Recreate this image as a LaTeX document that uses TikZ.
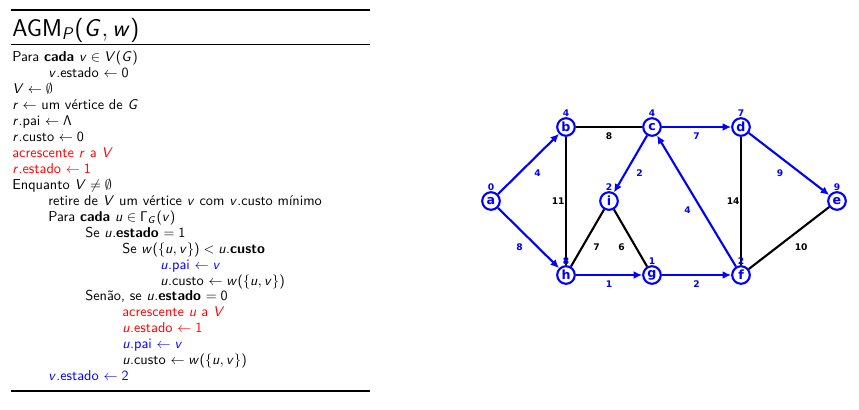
\documentclass[tikz,border=0pt]{standalone}
\usepackage[no-math]{fontspec}
\usepackage{tikz}
\usetikzlibrary{arrows.meta}
\newfontfamily\graphfont{DejaVu Sans}
% sans serif letters in math
\DeclareSymbolFont{sfitalic}{OT1}{cmss}{m}{sl}
\SetSymbolFont{operators}{normal}{OT1}{cmss}{m}{n}
\DeclareMathSymbol{v}{\mathalpha}{sfitalic}{`v}
\DeclareMathSymbol{u}{\mathalpha}{sfitalic}{`u}
\DeclareMathSymbol{r}{\mathalpha}{sfitalic}{`r}
\DeclareMathSymbol{w}{\mathalpha}{sfitalic}{`w}
\DeclareMathSymbol{V}{\mathalpha}{sfitalic}{`V}
\DeclareMathSymbol{G}{\mathalpha}{sfitalic}{`G}
\DeclareMathSymbol{P}{\mathalpha}{sfitalic}{`P}

\pgfdeclarelayer{edges}
\pgfsetlayers{edges,main}

\tikzset{
	alg/.style={anchor=base west, inner sep=0pt, font=\sffamily\fontsize{10.2}{12}\selectfont},
	vertex/.style={circle, draw=blue, fill=white, text=blue, line width=1.5pt, inner sep=0pt,
		minimum size=0.44cm, font=\graphfont\bfseries\fontsize{9}{9}\selectfont},
	vlabel/.style={text=blue, inner sep=0pt, font=\graphfont\bfseries\fontsize{6.5}{6.5}\selectfont},
	plain/.style={line width=1.5pt},
	tree/.style={line width=1.5pt, blue, -{Latex[length=6pt,width=5.5pt]}},
	wblack/.style={text=black, font=\graphfont\bfseries\fontsize{6.5}{6.5}\selectfont},
	wblue/.style={text=blue, font=\graphfont\bfseries\fontsize{6.5}{6.5}\selectfont},
}

\begin{document}
\begin{tikzpicture}[x=0.025cm, y=-0.025cm, label distance=0pt]
			%%%%% START %%%%%
			\useasboundingbox (0,0) rectangle (859,409);
			
			% algorithm
			\draw[line width=1.2pt] (11,10) -- (370,10);
			\node[anchor=base west, inner sep=0pt, font=\sffamily\LARGE] (title) at (12,36) {AGM$_P(G, w)$};
			\draw[line width=1.2pt] (11,44.5) -- (370,44.5);
			
			\node[alg] (l1) at (12,61.7) {Para \textbf{cada} $v \in V(G)$};
			\node[alg] (l2) at (48,77.65) {$v$.estado $\leftarrow 0$};
			\node[alg] (l3) at (12,93.6) {$V \leftarrow \emptyset$};
			\node[alg] (l4) at (12,109.55) {$r \leftarrow$ um vértice de $G$};
			\node[alg] (l5) at (12,125.5) {$r$.pai $\leftarrow \Lambda$};
			\node[alg] (l6) at (12,141.45) {$r$.custo $\leftarrow 0$};
			\node[alg, text=red] (l7) at (12,157.4) {acrescente $r$ a $V$};
			\node[alg, text=red] (l8) at (12,173.35) {$r$.estado $\leftarrow 1$};
			\node[alg] (l9) at (12,189.3) {Enquanto $V \neq \emptyset$};
			\node[alg] (l10) at (48,205.25) {retire de $V$ um vértice $v$ com $v$.custo mínimo};
			\node[alg] (l11) at (48,221.2) {Para \textbf{cada} $u \in \Gamma_G(v)$};
			\node[alg] (l12) at (85,237.15) {Se $u$.\textbf{estado} $= 1$};
			\node[alg] (l13) at (122,253.1) {Se $w(\{u, v\}) < u$.\textbf{custo}};
			\node[alg, text=blue] (l14) at (160,269.05) {$u$.pai $\leftarrow v$};
			\node[alg] (l15) at (160,285) {$u$.custo $\leftarrow w(\{u, v\})$};
			\node[alg] (l16) at (85,300.95) {Senão, se $u$.\textbf{estado} $= 0$};
			\node[alg, text=red] (l17) at (122,316.9) {acrescente $u$ a $V$};
			\node[alg, text=red] (l18) at (122,332.85) {$u$.estado $\leftarrow 1$};
			\node[alg, text=blue] (l19) at (122,348.8) {$u$.pai $\leftarrow v$};
			\node[alg] (l20) at (122,364.75) {$u$.custo $\leftarrow w(\{u, v\})$};
			\node[alg, text=blue] (l21) at (48,380.7) {$v$.estado $\leftarrow 2$};
			
			\draw[line width=1.2pt] (11,391) -- (370,391);
			
			% graph
			\node[vertex, label={[vlabel]above:0}] (a) at (491,201) {a};
			\node[vertex, label={[vlabel]above:4}] (b) at (566,127) {b};
			\node[vertex, label={[vlabel]above:4}] (c) at (652,127) {c};
			\node[vertex, label={[vlabel]above:7}] (d) at (741,127) {d};
			\node[vertex, label={[vlabel]above:9}] (e) at (837,201) {e};
			\node[vertex, label={[vlabel]above:2}] (i) at (609,201) {i};
			\node[vertex, label={[vlabel]above:8}] (h) at (566,275) {h};
			\node[vertex, label={[vlabel]above:1}] (g) at (652,275) {g};
			\node[vertex, label={[vlabel]above:2}] (f) at (741,275) {f};
			
			\begin{pgfonlayer}{edges}
			\draw[plain] (b) -- node[wblack, below] {8} (c);
			\draw[plain] (b) -- node[wblack, left, inner sep=0.3pt] {11} (h);
			\draw[plain] (h) -- node[wblack, below right] {7} (i);
			\draw[plain] (i) -- node[wblack, below left] {6} (g);
			\draw[plain] (d) -- node[wblack, left, inner sep=0.3pt] {14} (f);
			\draw[plain] (f) -- node[wblack, below right] {10} (e);
			
			\draw[tree] (a) -- node[wblue, below right] {4} (b);
			\draw[tree] (a) -- node[wblue, below left] {8} (h);
			\draw[tree] (c) -- node[wblue, below right] {2} (i);
			\draw[tree] (c) -- node[wblue, below] {7} (d);
			\draw[tree] (d) -- node[wblue, below left] {9} (e);
			\draw[tree] (f) -- node[wblue, below left] {4} (c);
			\draw[tree] (h) -- node[wblue, below] {1} (g);
			\draw[tree] (g) -- node[wblue, below] {2} (f);
			\end{pgfonlayer}
			
			%%%%% END %%%%%
\end{tikzpicture}
\end{document}
